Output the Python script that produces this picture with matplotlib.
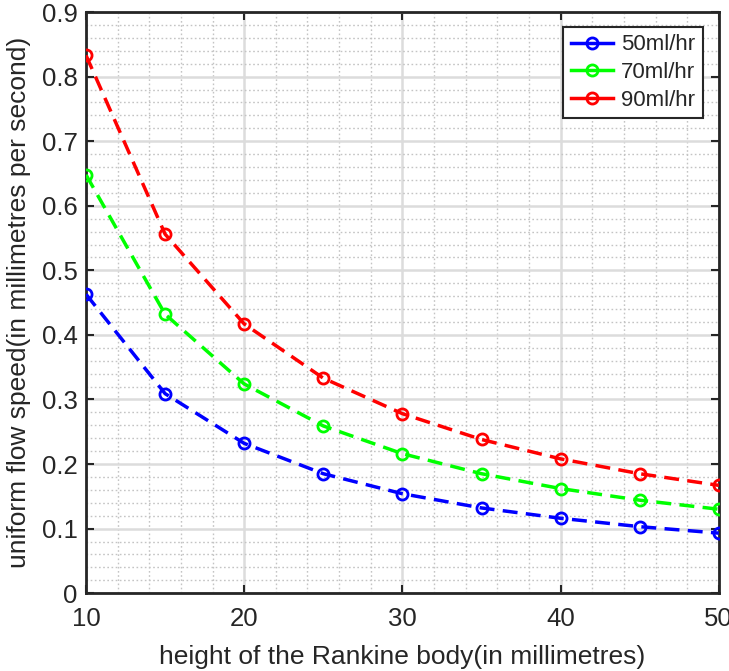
import matplotlib
matplotlib.use("Agg")
import matplotlib.pyplot as plt
from matplotlib.lines import Line2D
from matplotlib.ticker import MultipleLocator

plt.rcParams['font.family'] = ['Liberation Sans', 'DejaVu Sans']

# height of the body (mm) and uniform flow speed (mm/s) for each flow rate
heights = [10, 15, 20, 25, 30, 35, 40, 45, 50]
speed_50 = [0.463, 0.309, 0.232, 0.185, 0.154, 0.132, 0.116, 0.103, 0.093]
speed_70 = [0.648, 0.432, 0.324, 0.259, 0.216, 0.185, 0.162, 0.144, 0.130]
speed_90 = [0.833, 0.556, 0.417, 0.333, 0.278, 0.238, 0.208, 0.185, 0.167]
labels = ['50ml/hr', '70ml/hr', '90ml/hr']
colors = ['#0000ff', '#00ff00', '#ff0000']

txt = '#262626'

fig = plt.figure(figsize=(7.29, 6.71), dpi=100)
ax = fig.add_axes([0.118, 0.116, 0.868, 0.866])

handles = []
for ys, lab, c in zip([speed_50, speed_70, speed_90], labels, colors):
    ax.plot(heights, ys, linestyle=(0, (4.3, 2.4)), color=c, linewidth=2.5,
            marker='o', markersize=8, markerfacecolor='none',
            markeredgewidth=2, zorder=3)
    # legend shows a solid line with the marker
    handles.append(Line2D([], [], color=c, linewidth=2.5, marker='o', markersize=8,
                          markerfacecolor='none', markeredgewidth=2, label=lab))

ax.set_xlim(10, 50)
ax.set_ylim(0, 0.9)
ax.xaxis.set_major_locator(MultipleLocator(10))
ax.xaxis.set_minor_locator(MultipleLocator(2))
ax.yaxis.set_minor_locator(MultipleLocator(0.02))
ax.set_yticks([0, 0.1, 0.2, 0.3, 0.4, 0.5, 0.6, 0.7, 0.8, 0.9])
ax.set_yticklabels(['0', '0.1', '0.2', '0.3', '0.4', '0.5', '0.6', '0.7', '0.8', '0.9'])

ax.grid(True, which='major', color='#dcdcdc', linewidth=1.8, linestyle='-')
ax.grid(True, which='minor', color='#c4c4c4', linewidth=1.0, linestyle=(0, (1.2, 1.8)))
ax.set_axisbelow(True)

ax.tick_params(which='major', direction='in', length=6, width=1.5,
               top=True, right=True, labelsize=18.5, colors=txt)
ax.tick_params(axis='y', which='major', pad=6)
ax.tick_params(axis='x', which='major', pad=10)
ax.tick_params(which='minor', length=0, top=True, right=True)
for s in ax.spines.values():
    s.set_linewidth(2)
    s.set_color(txt)

ax.set_xlabel('height of the Rankine body(in millimetres)', fontsize=19, color=txt, labelpad=10)
ax.set_ylabel('uniform flow speed(in millimetres per second)', fontsize=19, color=txt, labelpad=8)

leg = ax.legend(handles=handles, loc='upper right', bbox_to_anchor=(0.975, 0.975),
                fontsize=16, fancybox=False, framealpha=1, edgecolor=txt,
                handlelength=1.9, borderpad=0.35, labelspacing=0.3, handletextpad=0.35,
                borderaxespad=0)
leg.get_frame().set_linewidth(1.5)
for t in leg.get_texts():
    t.set_color(txt)

fig.savefig('out.png', dpi=100)
